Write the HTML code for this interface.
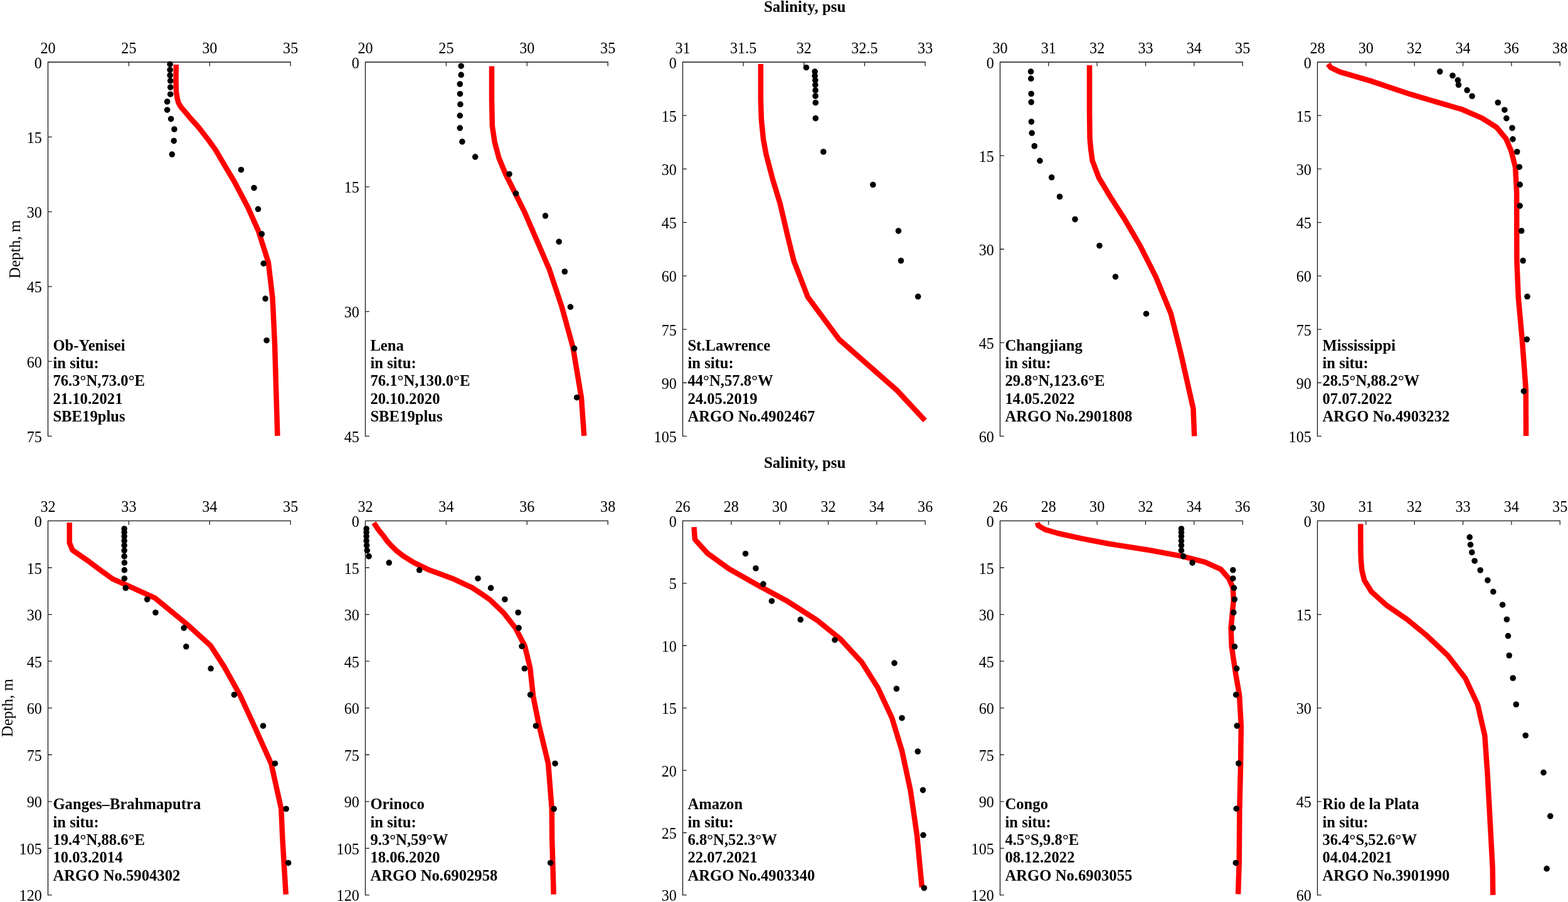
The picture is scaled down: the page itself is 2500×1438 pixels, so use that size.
<!DOCTYPE html><html><head><meta charset="utf-8"><style>html,body{margin:0;padding:0;background:#fff;}svg{display:block;}text{font-family:"Liberation Serif","Times New Roman",serif;}.t{font-size:24.2px;fill:#000;}.lg{font-size:24.7px;font-weight:bold;fill:#000;}.ti{font-size:25px;font-weight:bold;fill:#000;}</style></head><body>
<svg width="2500" height="1438" viewBox="0 0 2500 1438">
<rect width="2500" height="1438" fill="#fff"/>
<text class="ti" x="1283.2" y="19.2" text-anchor="middle">Salinity, psu</text>
<text class="ti" x="1283.2" y="746.2" text-anchor="middle">Salinity, psu</text>
<text class="t" style="font-size:25px" transform="translate(31.7,397.4) rotate(-90)" text-anchor="middle">Depth, m</text>
<text class="t" style="font-size:25px" transform="translate(19.5,1128.6) rotate(-90)" text-anchor="middle">Depth, m</text>
<g><path d="M76.50 99.00H463.20M76.50 99.00V695.45" stroke="#151515" stroke-width="1.3" fill="none" stroke-linecap="square"/><path d="M205.40 99.00v6.4M334.30 99.00v6.4M463.20 99.00v6.4M76.50 218.29h6.4M76.50 337.58h6.4M76.50 456.87h6.4M76.50 576.16h6.4M76.50 695.45h6.4" stroke="#222" stroke-width="1.3" fill="none"/><text class="t" x="76.50" y="84.60" text-anchor="middle">20</text><text class="t" x="205.40" y="84.60" text-anchor="middle">25</text><text class="t" x="334.30" y="84.60" text-anchor="middle">30</text><text class="t" x="463.20" y="84.60" text-anchor="middle">35</text><text class="t" x="66.90" y="108.50" text-anchor="end">0</text><text class="t" x="66.90" y="227.79" text-anchor="end">15</text><text class="t" x="66.90" y="347.08" text-anchor="end">30</text><text class="t" x="66.90" y="466.37" text-anchor="end">45</text><text class="t" x="66.90" y="585.66" text-anchor="end">60</text><text class="t" x="66.90" y="704.95" text-anchor="end">75</text><polyline points="280.8,103.0 280.5,129.4 281.0,146.6 282.7,157.0 284.6,164.0 288.4,170.7 293.6,176.5 305.1,190.2 316.6,202.9 332.6,223.5 344.1,239.6 356.0,260.0 374.0,290.2 395.2,330.5 412.2,368.7 428.0,418.9 434.6,475.7 438.0,546.9 442.4,694.9" stroke="#ff0000" stroke-width="8.5" fill="none" stroke-linejoin="round" stroke-linecap="butt"/><circle cx="271.1" cy="102.4" r="4.8"/><circle cx="271.1" cy="111.3" r="4.8"/><circle cx="271.1" cy="120.0" r="4.8"/><circle cx="271.7" cy="128.9" r="4.8"/><circle cx="271.7" cy="139.1" r="4.8"/><circle cx="271.7" cy="150.2" r="4.8"/><circle cx="266.6" cy="162.0" r="4.8"/><circle cx="266.6" cy="175.2" r="4.8"/><circle cx="272.6" cy="189.6" r="4.8"/><circle cx="277.9" cy="206.0" r="4.8"/><circle cx="277.2" cy="224.6" r="4.8"/><circle cx="274.3" cy="246.1" r="4.8"/><circle cx="384.4" cy="270.7" r="4.8"/><circle cx="405.0" cy="299.5" r="4.8"/><circle cx="411.5" cy="333.3" r="4.8"/><circle cx="417.3" cy="373.0" r="4.8"/><circle cx="420.2" cy="420.1" r="4.8"/><circle cx="423.1" cy="476.1" r="4.8"/><circle cx="425.1" cy="542.7" r="4.8"/><text class="lg" x="84.40" y="558.65">Ob-Yenisei</text><text class="lg" x="84.40" y="587.05">in situ:</text><text class="lg" x="84.40" y="615.45">76.3°N,73.0°E</text><text class="lg" x="84.40" y="643.85">21.10.2021</text><text class="lg" x="84.40" y="672.25">SBE19plus</text></g>
<g><path d="M582.50 99.00H969.20M582.50 99.00V695.45" stroke="#151515" stroke-width="1.3" fill="none" stroke-linecap="square"/><path d="M711.40 99.00v6.4M840.30 99.00v6.4M969.20 99.00v6.4M582.50 297.82h6.4M582.50 496.63h6.4M582.50 695.45h6.4" stroke="#222" stroke-width="1.3" fill="none"/><text class="t" x="582.50" y="84.60" text-anchor="middle">20</text><text class="t" x="711.40" y="84.60" text-anchor="middle">25</text><text class="t" x="840.30" y="84.60" text-anchor="middle">30</text><text class="t" x="969.20" y="84.60" text-anchor="middle">35</text><text class="t" x="572.90" y="108.50" text-anchor="end">0</text><text class="t" x="572.90" y="307.32" text-anchor="end">15</text><text class="t" x="572.90" y="506.13" text-anchor="end">30</text><text class="t" x="572.90" y="704.95" text-anchor="end">45</text><polyline points="784.0,105.6 784.0,158.7 784.9,201.1 788.7,226.6 795.5,252.0 806.1,277.5 835.8,336.9 854.5,380.0 875.7,429.0 895.7,489.0 913.5,553.6 926.9,633.7 931.3,694.9" stroke="#ff0000" stroke-width="8.5" fill="none" stroke-linejoin="round" stroke-linecap="butt"/><circle cx="735.2" cy="105.2" r="4.8"/><circle cx="735.2" cy="119.4" r="4.8"/><circle cx="733.3" cy="134.0" r="4.8"/><circle cx="733.5" cy="149.7" r="4.8"/><circle cx="733.9" cy="166.3" r="4.8"/><circle cx="733.3" cy="184.3" r="4.8"/><circle cx="733.3" cy="204.1" r="4.8"/><circle cx="736.9" cy="225.9" r="4.8"/><circle cx="757.7" cy="250.1" r="4.8"/><circle cx="812.0" cy="277.5" r="4.8"/><circle cx="822.6" cy="308.5" r="4.8"/><circle cx="869.5" cy="344.1" r="4.8"/><circle cx="891.2" cy="385.3" r="4.8"/><circle cx="900.4" cy="433.0" r="4.8"/><circle cx="909.5" cy="489.3" r="4.8"/><circle cx="915.7" cy="555.6" r="4.8"/><circle cx="919.7" cy="633.7" r="4.8"/><text class="lg" x="590.40" y="558.65">Lena</text><text class="lg" x="590.40" y="587.05">in situ:</text><text class="lg" x="590.40" y="615.45">76.1°N,130.0°E</text><text class="lg" x="590.40" y="643.85">20.10.2020</text><text class="lg" x="590.40" y="672.25">SBE19plus</text></g>
<g><path d="M1088.50 99.00H1475.20M1088.50 99.00V695.45" stroke="#151515" stroke-width="1.3" fill="none" stroke-linecap="square"/><path d="M1185.17 99.00v6.4M1281.85 99.00v6.4M1378.53 99.00v6.4M1475.20 99.00v6.4M1088.50 184.21h6.4M1088.50 269.41h6.4M1088.50 354.62h6.4M1088.50 439.83h6.4M1088.50 525.04h6.4M1088.50 610.24h6.4M1088.50 695.45h6.4" stroke="#222" stroke-width="1.3" fill="none"/><text class="t" x="1088.50" y="84.60" text-anchor="middle">31</text><text class="t" x="1185.17" y="84.60" text-anchor="middle">31.5</text><text class="t" x="1281.85" y="84.60" text-anchor="middle">32</text><text class="t" x="1378.53" y="84.60" text-anchor="middle">32.5</text><text class="t" x="1475.20" y="84.60" text-anchor="middle">33</text><text class="t" x="1078.90" y="108.50" text-anchor="end">0</text><text class="t" x="1078.90" y="193.71" text-anchor="end">15</text><text class="t" x="1078.90" y="278.91" text-anchor="end">30</text><text class="t" x="1078.90" y="364.12" text-anchor="end">45</text><text class="t" x="1078.90" y="449.33" text-anchor="end">60</text><text class="t" x="1078.90" y="534.54" text-anchor="end">75</text><text class="t" x="1078.90" y="619.74" text-anchor="end">90</text><text class="t" x="1078.90" y="704.95" text-anchor="end">105</text><polyline points="1212.9,102.0 1212.9,158.7 1213.9,190.5 1217.1,222.3 1221.4,245.6 1232.0,286.0 1243.7,324.2 1256.7,380.0 1265.6,415.6 1287.9,473.5 1338.0,541.3 1430.3,622.5 1474.8,670.4" stroke="#ff0000" stroke-width="8.5" fill="none" stroke-linejoin="round" stroke-linecap="butt"/><circle cx="1285.5" cy="107.7" r="4.8"/><circle cx="1299.2" cy="114.1" r="4.8"/><circle cx="1299.2" cy="120.9" r="4.8"/><circle cx="1299.9" cy="127.9" r="4.8"/><circle cx="1299.9" cy="135.3" r="4.8"/><circle cx="1300.1" cy="144.0" r="4.8"/><circle cx="1300.1" cy="153.1" r="4.8"/><circle cx="1300.3" cy="163.7" r="4.8"/><circle cx="1300.3" cy="188.6" r="4.8"/><circle cx="1312.8" cy="242.0" r="4.8"/><circle cx="1391.8" cy="294.5" r="4.8"/><circle cx="1432.5" cy="368.1" r="4.8"/><circle cx="1436.5" cy="415.6" r="4.8"/><circle cx="1463.7" cy="472.8" r="4.8"/><text class="lg" x="1096.40" y="558.65">St.Lawrence</text><text class="lg" x="1096.40" y="587.05">in situ:</text><text class="lg" x="1096.40" y="615.45">44°N,57.8°W</text><text class="lg" x="1096.40" y="643.85">24.05.2019</text><text class="lg" x="1096.40" y="672.25">ARGO No.4902467</text></g>
<g><path d="M1594.50 99.00H1981.20M1594.50 99.00V695.45" stroke="#151515" stroke-width="1.3" fill="none" stroke-linecap="square"/><path d="M1671.84 99.00v6.4M1749.18 99.00v6.4M1826.52 99.00v6.4M1903.86 99.00v6.4M1981.20 99.00v6.4M1594.50 248.11h6.4M1594.50 397.23h6.4M1594.50 546.34h6.4M1594.50 695.45h6.4" stroke="#222" stroke-width="1.3" fill="none"/><text class="t" x="1594.50" y="84.60" text-anchor="middle">30</text><text class="t" x="1671.84" y="84.60" text-anchor="middle">31</text><text class="t" x="1749.18" y="84.60" text-anchor="middle">32</text><text class="t" x="1826.52" y="84.60" text-anchor="middle">33</text><text class="t" x="1903.86" y="84.60" text-anchor="middle">34</text><text class="t" x="1981.20" y="84.60" text-anchor="middle">35</text><text class="t" x="1584.90" y="108.50" text-anchor="end">0</text><text class="t" x="1584.90" y="257.61" text-anchor="end">15</text><text class="t" x="1584.90" y="406.73" text-anchor="end">30</text><text class="t" x="1584.90" y="555.84" text-anchor="end">45</text><text class="t" x="1584.90" y="704.95" text-anchor="end">60</text><polyline points="1737.1,104.1 1737.1,179.9 1737.6,220.0 1739.2,238.4 1741.7,256.3 1751.7,282.8 1770.1,313.5 1793.2,349.6 1817.7,391.7 1842.7,441.2 1866.9,500.2 1882.5,562.5 1902.5,651.5 1904.3,695.4" stroke="#ff0000" stroke-width="8.5" fill="none" stroke-linejoin="round" stroke-linecap="butt"/><circle cx="1643.6" cy="114.1" r="4.8"/><circle cx="1643.8" cy="125.3" r="4.8"/><circle cx="1644.2" cy="149.5" r="4.8"/><circle cx="1644.2" cy="162.9" r="4.8"/><circle cx="1644.4" cy="194.1" r="4.8"/><circle cx="1645.2" cy="212.1" r="4.8"/><circle cx="1649.3" cy="232.9" r="4.8"/><circle cx="1658.0" cy="256.3" r="4.8"/><circle cx="1676.7" cy="282.8" r="4.8"/><circle cx="1689.6" cy="313.5" r="4.8"/><circle cx="1714.0" cy="349.6" r="4.8"/><circle cx="1753.0" cy="391.7" r="4.8"/><circle cx="1778.5" cy="441.2" r="4.8"/><circle cx="1827.5" cy="500.2" r="4.8"/><text class="lg" x="1602.40" y="558.65">Changjiang</text><text class="lg" x="1602.40" y="587.05">in situ:</text><text class="lg" x="1602.40" y="615.45">29.8°N,123.6°E</text><text class="lg" x="1602.40" y="643.85">14.05.2022</text><text class="lg" x="1602.40" y="672.25">ARGO No.2901808</text></g>
<g><path d="M2100.50 99.00H2487.20M2100.50 99.00V695.45" stroke="#151515" stroke-width="1.3" fill="none" stroke-linecap="square"/><path d="M2177.84 99.00v6.4M2255.18 99.00v6.4M2332.52 99.00v6.4M2409.86 99.00v6.4M2487.20 99.00v6.4M2100.50 184.21h6.4M2100.50 269.41h6.4M2100.50 354.62h6.4M2100.50 439.83h6.4M2100.50 525.04h6.4M2100.50 610.24h6.4M2100.50 695.45h6.4" stroke="#222" stroke-width="1.3" fill="none"/><text class="t" x="2100.50" y="84.60" text-anchor="middle">28</text><text class="t" x="2177.84" y="84.60" text-anchor="middle">30</text><text class="t" x="2255.18" y="84.60" text-anchor="middle">32</text><text class="t" x="2332.52" y="84.60" text-anchor="middle">34</text><text class="t" x="2409.86" y="84.60" text-anchor="middle">36</text><text class="t" x="2487.20" y="84.60" text-anchor="middle">38</text><text class="t" x="2090.90" y="108.50" text-anchor="end">0</text><text class="t" x="2090.90" y="193.71" text-anchor="end">15</text><text class="t" x="2090.90" y="278.91" text-anchor="end">30</text><text class="t" x="2090.90" y="364.12" text-anchor="end">45</text><text class="t" x="2090.90" y="449.33" text-anchor="end">60</text><text class="t" x="2090.90" y="534.54" text-anchor="end">75</text><text class="t" x="2090.90" y="619.74" text-anchor="end">90</text><text class="t" x="2090.90" y="704.95" text-anchor="end">105</text><polyline points="2117.6,102.0 2121.5,107.6 2136.1,114.6 2184.9,128.9 2248.5,150.2 2331.2,174.5 2363.0,188.3 2386.4,203.2 2401.2,221.2 2409.7,241.4 2416.1,266.8 2418.2,307.1 2418.4,415.6 2420.8,473.5 2426.8,540.2 2432.8,620.3 2433.1,694.9" stroke="#ff0000" stroke-width="8.5" fill="none" stroke-linejoin="round" stroke-linecap="butt"/><circle cx="2295.8" cy="114.1" r="4.8"/><circle cx="2316.0" cy="120.5" r="4.8"/><circle cx="2324.4" cy="127.9" r="4.8"/><circle cx="2325.5" cy="135.3" r="4.8"/><circle cx="2339.1" cy="143.8" r="4.8"/><circle cx="2347.1" cy="153.3" r="4.8"/><circle cx="2388.3" cy="163.5" r="4.8"/><circle cx="2398.9" cy="175.2" r="4.8"/><circle cx="2401.9" cy="188.6" r="4.8"/><circle cx="2411.0" cy="204.0" r="4.8"/><circle cx="2412.0" cy="221.9" r="4.8"/><circle cx="2418.8" cy="242.0" r="4.8"/><circle cx="2422.4" cy="266.2" r="4.8"/><circle cx="2423.3" cy="294.4" r="4.8"/><circle cx="2423.3" cy="328.1" r="4.8"/><circle cx="2425.8" cy="368.0" r="4.8"/><circle cx="2428.2" cy="415.6" r="4.8"/><circle cx="2435.1" cy="472.8" r="4.8"/><circle cx="2434.4" cy="541.1" r="4.8"/><circle cx="2429.5" cy="623.7" r="4.8"/><text class="lg" x="2108.40" y="558.65">Mississippi</text><text class="lg" x="2108.40" y="587.05">in situ:</text><text class="lg" x="2108.40" y="615.45">28.5°N,88.2°W</text><text class="lg" x="2108.40" y="643.85">07.07.2022</text><text class="lg" x="2108.40" y="672.25">ARGO No.4903232</text></g>
<g><path d="M76.50 830.45H463.20M76.50 830.45V1426.90" stroke="#151515" stroke-width="1.3" fill="none" stroke-linecap="square"/><path d="M205.40 830.45v6.4M334.30 830.45v6.4M463.20 830.45v6.4M76.50 905.01h6.4M76.50 979.56h6.4M76.50 1054.12h6.4M76.50 1128.68h6.4M76.50 1203.23h6.4M76.50 1277.79h6.4M76.50 1352.34h6.4M76.50 1426.90h6.4" stroke="#222" stroke-width="1.3" fill="none"/><text class="t" x="76.50" y="816.05" text-anchor="middle">32</text><text class="t" x="205.40" y="816.05" text-anchor="middle">33</text><text class="t" x="334.30" y="816.05" text-anchor="middle">34</text><text class="t" x="463.20" y="816.05" text-anchor="middle">35</text><text class="t" x="66.90" y="839.95" text-anchor="end">0</text><text class="t" x="66.90" y="914.51" text-anchor="end">15</text><text class="t" x="66.90" y="989.06" text-anchor="end">30</text><text class="t" x="66.90" y="1063.62" text-anchor="end">45</text><text class="t" x="66.90" y="1138.18" text-anchor="end">60</text><text class="t" x="66.90" y="1212.73" text-anchor="end">75</text><text class="t" x="66.90" y="1287.29" text-anchor="end">90</text><text class="t" x="66.90" y="1361.84" text-anchor="end">105</text><text class="t" x="66.90" y="1436.40" text-anchor="end">120</text><polyline points="110.8,833.1 110.8,865.3 115.5,877.0 143.0,896.1 160.0,908.8 179.1,922.6 200.3,932.1 247.0,953.3 300.0,996.8 336.1,1029.7 357.3,1062.6 382.7,1108.2 406.1,1159.0 432.3,1217.2 448.3,1289.1 450.5,1338.1 455.8,1425.9" stroke="#ff0000" stroke-width="8.5" fill="none" stroke-linejoin="round" stroke-linecap="butt"/><circle cx="198.2" cy="843.0" r="4.8"/><circle cx="198.2" cy="848.8" r="4.8"/><circle cx="198.2" cy="855.1" r="4.8"/><circle cx="198.2" cy="862.1" r="4.8"/><circle cx="198.2" cy="869.5" r="4.8"/><circle cx="198.2" cy="877.6" r="4.8"/><circle cx="198.2" cy="886.9" r="4.8"/><circle cx="198.4" cy="897.1" r="4.8"/><circle cx="198.4" cy="908.8" r="4.8"/><circle cx="198.4" cy="922.2" r="4.8"/><circle cx="200.3" cy="937.4" r="4.8"/><circle cx="234.7" cy="955.5" r="4.8"/><circle cx="248.0" cy="976.5" r="4.8"/><circle cx="293.2" cy="1001.1" r="4.8"/><circle cx="296.8" cy="1030.8" r="4.8"/><circle cx="336.1" cy="1065.8" r="4.8"/><circle cx="373.4" cy="1107.6" r="4.8"/><circle cx="419.5" cy="1157.2" r="4.8"/><circle cx="438.5" cy="1217.2" r="4.8"/><circle cx="456.2" cy="1289.5" r="4.8"/><circle cx="459.7" cy="1375.7" r="4.8"/><text class="lg" x="84.40" y="1290.10">Ganges–Brahmaputra</text><text class="lg" x="84.40" y="1318.50">in situ:</text><text class="lg" x="84.40" y="1346.90">19.4°N,88.6°E</text><text class="lg" x="84.40" y="1375.30">10.03.2014</text><text class="lg" x="84.40" y="1403.70">ARGO No.5904302</text></g>
<g><path d="M582.50 830.45H969.20M582.50 830.45V1426.90" stroke="#151515" stroke-width="1.3" fill="none" stroke-linecap="square"/><path d="M711.40 830.45v6.4M840.30 830.45v6.4M969.20 830.45v6.4M582.50 905.01h6.4M582.50 979.56h6.4M582.50 1054.12h6.4M582.50 1128.68h6.4M582.50 1203.23h6.4M582.50 1277.79h6.4M582.50 1352.34h6.4M582.50 1426.90h6.4" stroke="#222" stroke-width="1.3" fill="none"/><text class="t" x="582.50" y="816.05" text-anchor="middle">32</text><text class="t" x="711.40" y="816.05" text-anchor="middle">34</text><text class="t" x="840.30" y="816.05" text-anchor="middle">36</text><text class="t" x="969.20" y="816.05" text-anchor="middle">38</text><text class="t" x="572.90" y="839.95" text-anchor="end">0</text><text class="t" x="572.90" y="914.51" text-anchor="end">15</text><text class="t" x="572.90" y="989.06" text-anchor="end">30</text><text class="t" x="572.90" y="1063.62" text-anchor="end">45</text><text class="t" x="572.90" y="1138.18" text-anchor="end">60</text><text class="t" x="572.90" y="1212.73" text-anchor="end">75</text><text class="t" x="572.90" y="1287.29" text-anchor="end">90</text><text class="t" x="572.90" y="1361.84" text-anchor="end">105</text><text class="t" x="572.90" y="1436.40" text-anchor="end">120</text><polyline points="596.0,833.5 602.3,843.0 606.9,848.8 612.0,855.1 616.8,862.1 623.5,869.5 631.6,877.6 643.7,886.9 660.3,897.1 684.6,908.8 721.2,922.2 753.8,937.4 780.5,955.5 802.7,976.7 821.8,1001.1 836.7,1029.7 845.2,1064.7 850.1,1110.0 859.2,1155.6 874.1,1217.2 879.8,1289.1 880.2,1338.1 882.7,1425.9" stroke="#ff0000" stroke-width="8.5" fill="none" stroke-linejoin="round" stroke-linecap="butt"/><circle cx="584.2" cy="843.0" r="4.8"/><circle cx="584.2" cy="848.8" r="4.8"/><circle cx="584.2" cy="855.1" r="4.8"/><circle cx="584.2" cy="862.1" r="4.8"/><circle cx="584.7" cy="869.5" r="4.8"/><circle cx="585.3" cy="877.6" r="4.8"/><circle cx="588.1" cy="886.9" r="4.8"/><circle cx="620.3" cy="897.1" r="4.8"/><circle cx="668.7" cy="908.8" r="4.8"/><circle cx="762.0" cy="922.2" r="4.8"/><circle cx="782.6" cy="937.4" r="4.8"/><circle cx="804.9" cy="955.5" r="4.8"/><circle cx="826.1" cy="976.5" r="4.8"/><circle cx="827.1" cy="1001.1" r="4.8"/><circle cx="832.0" cy="1030.3" r="4.8"/><circle cx="836.3" cy="1065.8" r="4.8"/><circle cx="845.6" cy="1107.6" r="4.8"/><circle cx="854.4" cy="1157.2" r="4.8"/><circle cx="885.0" cy="1217.2" r="4.8"/><circle cx="883.2" cy="1289.5" r="4.8"/><circle cx="877.7" cy="1375.7" r="4.8"/><text class="lg" x="590.40" y="1290.10">Orinoco</text><text class="lg" x="590.40" y="1318.50">in situ:</text><text class="lg" x="590.40" y="1346.90">9.3°N,59°W</text><text class="lg" x="590.40" y="1375.30">18.06.2020</text><text class="lg" x="590.40" y="1403.70">ARGO No.6902958</text></g>
<g><path d="M1088.50 830.45H1475.20M1088.50 830.45V1426.90" stroke="#151515" stroke-width="1.3" fill="none" stroke-linecap="square"/><path d="M1165.84 830.45v6.4M1243.18 830.45v6.4M1320.52 830.45v6.4M1397.86 830.45v6.4M1475.20 830.45v6.4M1088.50 929.86h6.4M1088.50 1029.27h6.4M1088.50 1128.68h6.4M1088.50 1228.08h6.4M1088.50 1327.49h6.4M1088.50 1426.90h6.4" stroke="#222" stroke-width="1.3" fill="none"/><text class="t" x="1088.50" y="816.05" text-anchor="middle">26</text><text class="t" x="1165.84" y="816.05" text-anchor="middle">28</text><text class="t" x="1243.18" y="816.05" text-anchor="middle">30</text><text class="t" x="1320.52" y="816.05" text-anchor="middle">32</text><text class="t" x="1397.86" y="816.05" text-anchor="middle">34</text><text class="t" x="1475.20" y="816.05" text-anchor="middle">36</text><text class="t" x="1078.90" y="839.95" text-anchor="end">0</text><text class="t" x="1078.90" y="939.36" text-anchor="end">5</text><text class="t" x="1078.90" y="1038.77" text-anchor="end">10</text><text class="t" x="1078.90" y="1138.18" text-anchor="end">15</text><text class="t" x="1078.90" y="1237.58" text-anchor="end">20</text><text class="t" x="1078.90" y="1336.99" text-anchor="end">25</text><text class="t" x="1078.90" y="1436.40" text-anchor="end">30</text><polyline points="1106.5,840.3 1108.0,860.0 1128.2,882.3 1162.1,906.7 1208.8,933.2 1255.5,958.6 1302.1,988.3 1340.3,1019.1 1374.3,1056.2 1399.7,1096.5 1422.0,1144.2 1438.0,1196.7 1451.7,1260.5 1462.0,1331.3 1469.9,1414.5" stroke="#ff0000" stroke-width="8.5" fill="none" stroke-linejoin="round" stroke-linecap="butt"/><circle cx="1188.6" cy="882.7" r="4.8"/><circle cx="1205.0" cy="906.0" r="4.8"/><circle cx="1216.9" cy="931.1" r="4.8"/><circle cx="1230.4" cy="958.2" r="4.8"/><circle cx="1276.3" cy="987.9" r="4.8"/><circle cx="1331.0" cy="1020.2" r="4.8"/><circle cx="1426.0" cy="1057.1" r="4.8"/><circle cx="1429.4" cy="1098.0" r="4.8"/><circle cx="1438.0" cy="1144.7" r="4.8"/><circle cx="1463.3" cy="1198.0" r="4.8"/><circle cx="1471.5" cy="1259.6" r="4.8"/><circle cx="1472.0" cy="1331.3" r="4.8"/><circle cx="1473.4" cy="1415.7" r="4.8"/><text class="lg" x="1096.40" y="1290.10">Amazon</text><text class="lg" x="1096.40" y="1318.50">in situ:</text><text class="lg" x="1096.40" y="1346.90">6.8°N,52.3°W</text><text class="lg" x="1096.40" y="1375.30">22.07.2021</text><text class="lg" x="1096.40" y="1403.70">ARGO No.4903340</text></g>
<g><path d="M1594.50 830.45H1981.20M1594.50 830.45V1426.90" stroke="#151515" stroke-width="1.3" fill="none" stroke-linecap="square"/><path d="M1671.84 830.45v6.4M1749.18 830.45v6.4M1826.52 830.45v6.4M1903.86 830.45v6.4M1981.20 830.45v6.4M1594.50 905.01h6.4M1594.50 979.56h6.4M1594.50 1054.12h6.4M1594.50 1128.68h6.4M1594.50 1203.23h6.4M1594.50 1277.79h6.4M1594.50 1352.34h6.4M1594.50 1426.90h6.4" stroke="#222" stroke-width="1.3" fill="none"/><text class="t" x="1594.50" y="816.05" text-anchor="middle">26</text><text class="t" x="1671.84" y="816.05" text-anchor="middle">28</text><text class="t" x="1749.18" y="816.05" text-anchor="middle">30</text><text class="t" x="1826.52" y="816.05" text-anchor="middle">32</text><text class="t" x="1903.86" y="816.05" text-anchor="middle">34</text><text class="t" x="1981.20" y="816.05" text-anchor="middle">36</text><text class="t" x="1584.90" y="839.95" text-anchor="end">0</text><text class="t" x="1584.90" y="914.51" text-anchor="end">15</text><text class="t" x="1584.90" y="989.06" text-anchor="end">30</text><text class="t" x="1584.90" y="1063.62" text-anchor="end">45</text><text class="t" x="1584.90" y="1138.18" text-anchor="end">60</text><text class="t" x="1584.90" y="1212.73" text-anchor="end">75</text><text class="t" x="1584.90" y="1287.29" text-anchor="end">90</text><text class="t" x="1584.90" y="1361.84" text-anchor="end">105</text><text class="t" x="1584.90" y="1436.40" text-anchor="end">120</text><polyline points="1654.0,833.2 1655.3,837.8 1666.6,844.4 1687.9,850.5 1726.1,858.9 1768.5,867.0 1832.1,877.0 1885.2,886.9 1921.2,896.1 1946.7,907.7 1959.4,922.6 1965.8,937.4 1966.8,956.5 1962.6,1001.1 1963.7,1030.8 1970.0,1073.2 1976.0,1107.6 1978.8,1156.4 1978.1,1217.5 1976.4,1288.0 1975.7,1375.0 1974.1,1425.5" stroke="#ff0000" stroke-width="8.5" fill="none" stroke-linejoin="round" stroke-linecap="butt"/><circle cx="1883.5" cy="843.0" r="4.8"/><circle cx="1883.5" cy="848.8" r="4.8"/><circle cx="1883.5" cy="855.1" r="4.8"/><circle cx="1883.5" cy="862.1" r="4.8"/><circle cx="1883.5" cy="869.5" r="4.8"/><circle cx="1883.5" cy="877.6" r="4.8"/><circle cx="1886.7" cy="886.9" r="4.8"/><circle cx="1901.1" cy="897.1" r="4.8"/><circle cx="1965.8" cy="908.8" r="4.8"/><circle cx="1965.8" cy="922.2" r="4.8"/><circle cx="1967.5" cy="937.4" r="4.8"/><circle cx="1968.3" cy="955.5" r="4.8"/><circle cx="1966.8" cy="976.5" r="4.8"/><circle cx="1965.8" cy="1001.1" r="4.8"/><circle cx="1968.5" cy="1030.8" r="4.8"/><circle cx="1971.7" cy="1065.8" r="4.8"/><circle cx="1970.7" cy="1107.6" r="4.8"/><circle cx="1972.2" cy="1157.1" r="4.8"/><circle cx="1974.8" cy="1217.0" r="4.8"/><circle cx="1971.3" cy="1289.2" r="4.8"/><circle cx="1970.3" cy="1375.7" r="4.8"/><text class="lg" x="1602.40" y="1290.10">Congo</text><text class="lg" x="1602.40" y="1318.50">in situ:</text><text class="lg" x="1602.40" y="1346.90">4.5°S,9.8°E</text><text class="lg" x="1602.40" y="1375.30">08.12.2022</text><text class="lg" x="1602.40" y="1403.70">ARGO No.6903055</text></g>
<g><path d="M2100.50 830.45H2487.20M2100.50 830.45V1426.90" stroke="#151515" stroke-width="1.3" fill="none" stroke-linecap="square"/><path d="M2177.84 830.45v6.4M2255.18 830.45v6.4M2332.52 830.45v6.4M2409.86 830.45v6.4M2487.20 830.45v6.4M2100.50 979.56h6.4M2100.50 1128.68h6.4M2100.50 1277.79h6.4M2100.50 1426.90h6.4" stroke="#222" stroke-width="1.3" fill="none"/><text class="t" x="2100.50" y="816.05" text-anchor="middle">30</text><text class="t" x="2177.84" y="816.05" text-anchor="middle">31</text><text class="t" x="2255.18" y="816.05" text-anchor="middle">32</text><text class="t" x="2332.52" y="816.05" text-anchor="middle">33</text><text class="t" x="2409.86" y="816.05" text-anchor="middle">34</text><text class="t" x="2487.20" y="816.05" text-anchor="middle">35</text><text class="t" x="2090.90" y="839.95" text-anchor="end">0</text><text class="t" x="2090.90" y="989.06" text-anchor="end">15</text><text class="t" x="2090.90" y="1138.18" text-anchor="end">30</text><text class="t" x="2090.90" y="1287.29" text-anchor="end">45</text><text class="t" x="2090.90" y="1436.40" text-anchor="end">60</text><polyline points="2169.3,835.2 2169.5,880.6 2170.0,894.2 2171.4,909.0 2175.2,925.1 2186.7,943.4 2209.7,964.2 2243.5,987.5 2275.5,1013.8 2308.4,1045.0 2336.2,1081.0 2355.9,1123.0 2367.3,1172.5 2371.5,1231.6 2375.3,1301.1 2379.8,1384.9 2380.3,1426.9" stroke="#ff0000" stroke-width="8.5" fill="none" stroke-linejoin="round" stroke-linecap="butt"/><circle cx="2343.2" cy="856.4" r="4.8"/><circle cx="2344.5" cy="868.3" r="4.8"/><circle cx="2346.8" cy="880.6" r="4.8"/><circle cx="2351.1" cy="894.2" r="4.8"/><circle cx="2360.2" cy="909.0" r="4.8"/><circle cx="2371.9" cy="925.1" r="4.8"/><circle cx="2380.8" cy="943.4" r="4.8"/><circle cx="2395.6" cy="964.2" r="4.8"/><circle cx="2402.4" cy="987.5" r="4.8"/><circle cx="2404.5" cy="1013.8" r="4.8"/><circle cx="2406.2" cy="1045.0" r="4.8"/><circle cx="2412.2" cy="1081.0" r="4.8"/><circle cx="2417.3" cy="1123.0" r="4.8"/><circle cx="2432.3" cy="1172.5" r="4.8"/><circle cx="2461.0" cy="1231.6" r="4.8"/><circle cx="2471.8" cy="1301.1" r="4.8"/><circle cx="2466.1" cy="1384.9" r="4.8"/><text class="lg" x="2108.40" y="1290.10">Rio de la Plata</text><text class="lg" x="2108.40" y="1318.50">in situ:</text><text class="lg" x="2108.40" y="1346.90">36.4°S,52.6°W</text><text class="lg" x="2108.40" y="1375.30">04.04.2021</text><text class="lg" x="2108.40" y="1403.70">ARGO No.3901990</text></g>
</svg></body></html>
